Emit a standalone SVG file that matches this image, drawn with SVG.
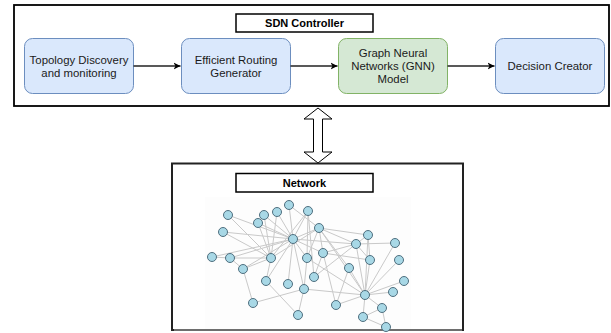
<svg xmlns="http://www.w3.org/2000/svg" width="611" height="333" viewBox="0 0 611 333">
<defs>
<marker id="arr" markerWidth="8" markerHeight="8" refX="7" refY="4" orient="auto" markerUnits="userSpaceOnUse">
<path d="M0,0.5 L7,4 L0,7.5 L2,4 Z" fill="#000"/>
</marker>
</defs>
<style>
.frame{fill:#fff;stroke:#000;stroke-width:1.8}
.lbl{fill:#fff;stroke:#000;stroke-width:1.5}
.blue{fill:#dae8fc;stroke:#6c8ebf;stroke-width:1}
.green{fill:#d5e8d4;stroke:#82b366;stroke-width:1}
.t{font-family:"Liberation Sans",Arial,sans-serif;font-size:11.4px;fill:#1a1a1a;text-anchor:middle}
.b{font-family:"Liberation Sans",Arial,sans-serif;font-size:11px;font-weight:bold;fill:#000;text-anchor:middle}
.flow{stroke:#222;stroke-width:1.5;fill:none;marker-end:url(#arr)}
.e{stroke:#c9c9c9;stroke-width:1;fill:none}
.n{fill:#a8d8e6;stroke:#4f6f7f;stroke-width:1}
</style>
<rect width="611" height="333" fill="#fff"/>

<g id="sdn-controller">
<rect class="frame" x="14" y="5" width="595" height="101"/>
<rect class="lbl" x="236" y="14" width="137" height="18"/>
<text class="b" x="304.5" y="27">SDN Controller</text>
</g>

<g id="topology">
<rect class="blue" x="24.5" y="38.5" width="109" height="55" rx="8"/>
<text class="t" x="79" y="64">Topology Discovery</text>
<text class="t" x="79" y="77">and monitoring</text>
</g>
<g id="routing">
<rect class="blue" x="181.5" y="38.5" width="109" height="55" rx="8"/>
<text class="t" x="236" y="64">Efficient Routing</text>
<text class="t" x="236" y="77">Generator</text>
</g>
<g id="gnn">
<rect class="green" x="338.5" y="38.5" width="109" height="55" rx="8"/>
<text class="t" x="393" y="57">Graph Neural</text>
<text class="t" x="393" y="70">Networks (GNN)</text>
<text class="t" x="393" y="83">Model</text>
</g>
<g id="decision">
<rect class="blue" x="495.5" y="38.5" width="109" height="55" rx="8"/>
<text class="t" x="550" y="70">Decision Creator</text>
</g>

<g id="connectors">
<line class="flow" x1="133.5" y1="66" x2="180.5" y2="66"/>
<line class="flow" x1="290.5" y1="66" x2="337.5" y2="66"/>
<line class="flow" x1="447.5" y1="66" x2="494.5" y2="66"/>
<path d="M318,108 L332,119 L322.5,119 L322.5,152 L332,152 L318,163 L304,152 L313.5,152 L313.5,119 L304,119 Z" fill="#fff" stroke="#000" stroke-width="1"/>
</g>

<g id="network">
<rect x="172" y="163.5" width="291" height="166.5" fill="#fff" stroke="#222" stroke-width="2"/>
<rect class="lbl" x="236" y="173.5" width="137" height="18.5"/>
<text class="b" x="304.5" y="187">Network</text>
<rect x="205" y="197" width="206" height="132" fill="#fdfdfd"/>
<line x1="174" y1="330" x2="462" y2="330" stroke="#888" stroke-width="1.5"/>
</g>

<g id="graph-edges">
<path class="e" d="M228,215L293,239M228,215L271,258M223,232L293,239M223,232L271,258M258,223L293,239M258,223L271,258M264,215L293,239M264,215L271,258M277,212L293,239M277,212L271,258M289,205L319,228M289,205L293,239M308,211L271,258M308,211L293,239M308,211L307,258M308,211L314,277M319,228L368,235M319,228L356,244M319,228L293,239M319,228L271,258M319,228L307,258M319,228L323,253M319,228L349,268M319,228L365,295M212,257L230,258M230,258L293,239M230,258L271,258M212,257L293,239M293,239L307,258M293,239L323,253M293,239L356,244M293,239L243,269M293,239L266,281M293,239L288,284M293,239L304,289M271,258L243,269M271,258L266,281M356,244L368,235M356,244L395,243M356,244L323,253M356,244L370,260M356,244L365,295M356,244L314,277M368,235L370,260M368,235L365,295M395,243L365,295M399,260L365,295M404,281L365,295M393,292L365,295M370,260L365,295M323,253L370,260M365,295L336,305M365,295L382,308M365,295L363,317M365,295L349,268M365,295L304,289M382,308L386,327M363,317L386,327M363,317L382,308M336,305L349,268M243,269L253,303M230,258L243,269M253,303L304,289M266,281L298,315M298,315L304,289M314,277L323,253M307,258L304,289M323,253L336,305M307,258L365,295"/>
</g>

<g id="graph-nodes">
<circle class="n" cx="228" cy="215" r="4.5"/>
<circle class="n" cx="264" cy="215" r="4.5"/>
<circle class="n" cx="277" cy="212" r="4.5"/>
<circle class="n" cx="289" cy="205" r="4.5"/>
<circle class="n" cx="308" cy="211" r="4.5"/>
<circle class="n" cx="258" cy="223" r="4.5"/>
<circle class="n" cx="223" cy="232" r="4.5"/>
<circle class="n" cx="319" cy="228" r="4.5"/>
<circle class="n" cx="293" cy="239" r="4.5"/>
<circle class="n" cx="368" cy="235" r="4.5"/>
<circle class="n" cx="356" cy="244" r="4.5"/>
<circle class="n" cx="395" cy="243" r="4.5"/>
<circle class="n" cx="212" cy="257" r="4.5"/>
<circle class="n" cx="230" cy="258" r="4.5"/>
<circle class="n" cx="271" cy="258" r="4.5"/>
<circle class="n" cx="307" cy="258" r="4.5"/>
<circle class="n" cx="323" cy="253" r="4.5"/>
<circle class="n" cx="370" cy="260" r="4.5"/>
<circle class="n" cx="399" cy="260" r="4.5"/>
<circle class="n" cx="243" cy="269" r="4.5"/>
<circle class="n" cx="349" cy="268" r="4.5"/>
<circle class="n" cx="266" cy="281" r="4.5"/>
<circle class="n" cx="288" cy="284" r="4.5"/>
<circle class="n" cx="314" cy="277" r="4.5"/>
<circle class="n" cx="304" cy="289" r="4.5"/>
<circle class="n" cx="404" cy="281" r="4.5"/>
<circle class="n" cx="393" cy="292" r="4.5"/>
<circle class="n" cx="365" cy="295" r="4.5"/>
<circle class="n" cx="253" cy="303" r="4.5"/>
<circle class="n" cx="336" cy="305" r="4.5"/>
<circle class="n" cx="382" cy="308" r="4.5"/>
<circle class="n" cx="298" cy="315" r="4.5"/>
<circle class="n" cx="363" cy="317" r="4.5"/>
<circle class="n" cx="386" cy="327" r="4.5"/>
</g>
</svg>
